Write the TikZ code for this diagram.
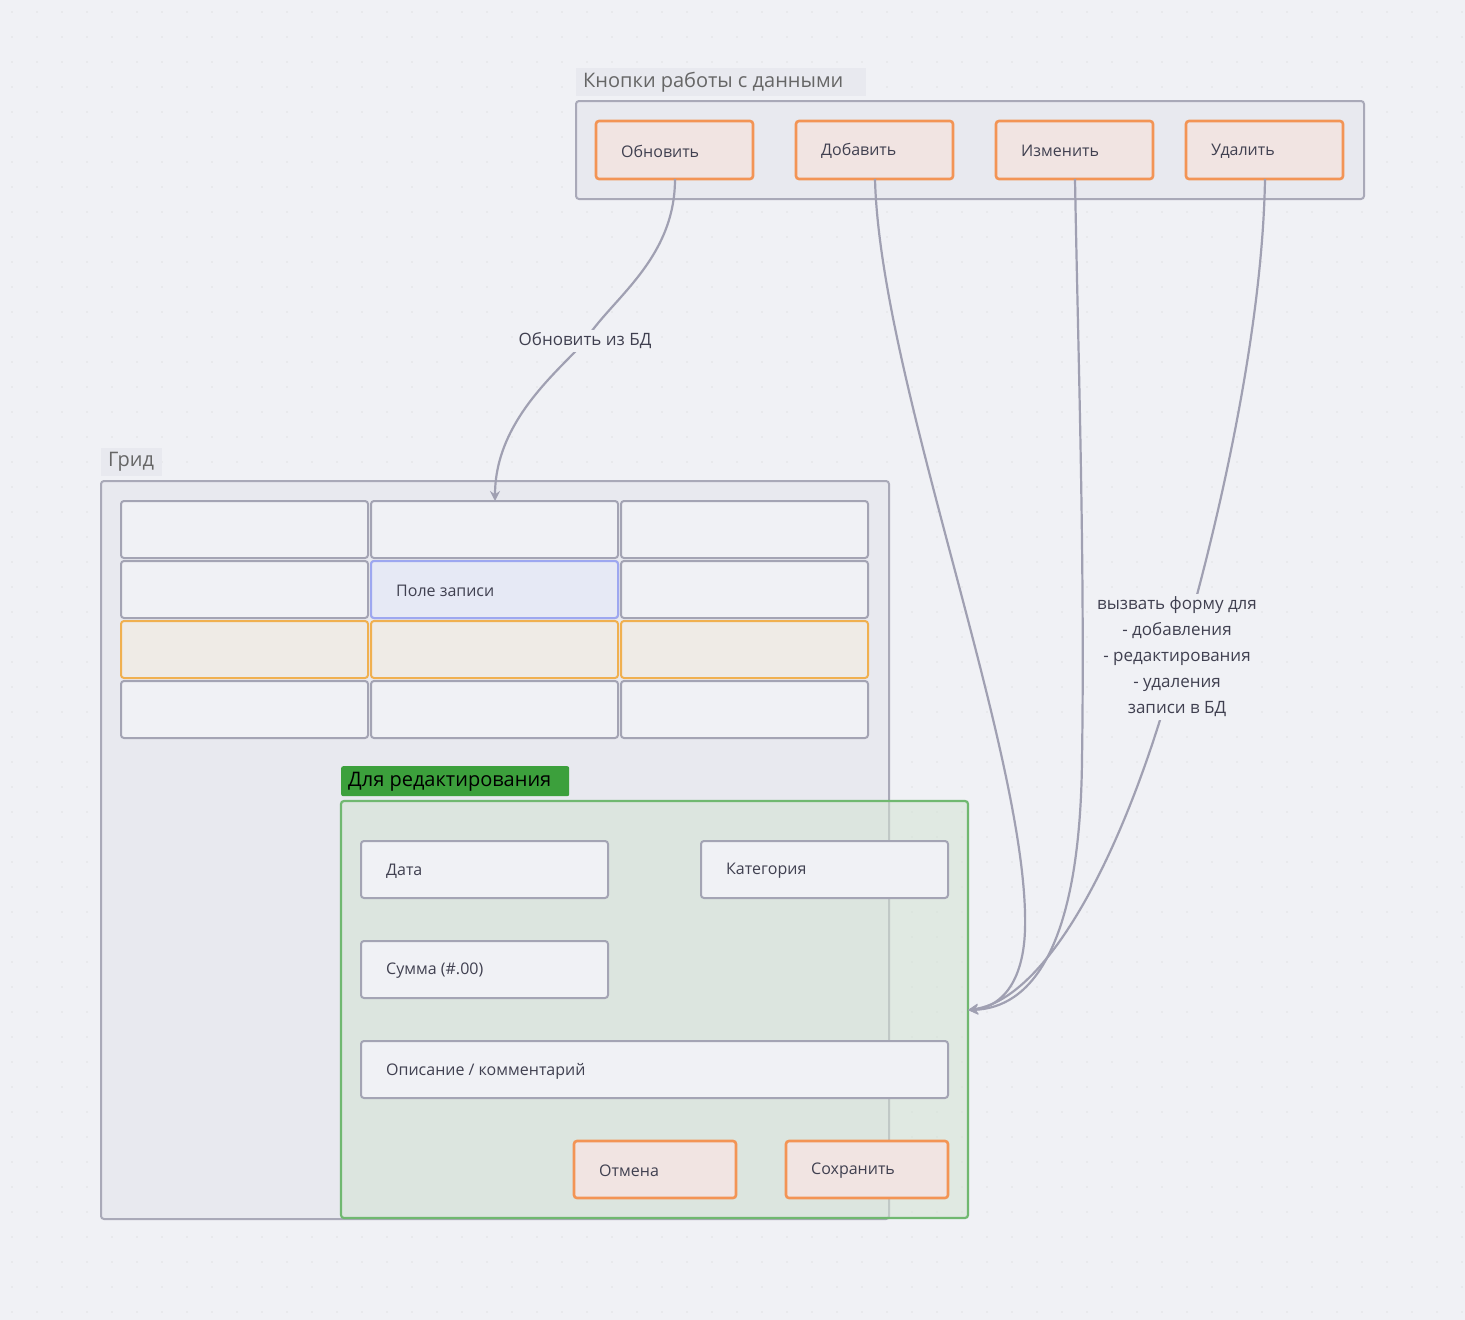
\documentclass[tikz,border=0pt]{standalone}
\usepackage{fontspec}
\setmainfont{Open Sans}
\usetikzlibrary{arrows.meta}
\definecolor{bg}{HTML}{F0F1F5}
\definecolor{grpfill}{HTML}{E8E9EF}
\definecolor{grpline}{HTML}{A9A9B8}
\definecolor{btnfill}{HTML}{F1E4E2}
\definecolor{btnline}{HTML}{F39455}
\definecolor{cellline}{HTML}{A4A4B4}
\definecolor{rowfill}{HTML}{EFEBE6}
\definecolor{rowline}{HTML}{F0B050}
\definecolor{selfill}{HTML}{E6E9F5}
\definecolor{selline}{HTML}{9DA7F0}
\definecolor{greenlab}{HTML}{3CA03C}
\definecolor{greenline}{HTML}{70B870}
\definecolor{greenfill}{HTML}{D3E3D3}
\definecolor{edge}{HTML}{A0A0B2}
\definecolor{txt}{HTML}{404050}
\tikzset{
 box/.style={draw=cellline,line width=2pt,fill=bg,rounded corners=3pt},
 btn/.style={draw=btnline,line width=2.6pt,fill=btnfill,rounded corners=3pt},
 lbl/.style={anchor=west,text=txt,font=\fontsize{16}{18}\selectfont,inner sep=0pt},
 glbl/.style={anchor=west,inner sep=0pt,font=\fontsize{20}{22}\selectfont},
 conn/.style={draw=edge,line width=2.2pt,-{Stealth[length=10pt,width=10pt]}},
 elab/.style={fill=bg,text=txt,font=\fontsize{17}{26}\selectfont,align=center,inner sep=3pt}
}
\begin{document}
\begin{tikzpicture}[x=1pt,y=-1pt]
\fill[bg] (0,0) rectangle (1465,1320);
\useasboundingbox (0,0) rectangle (1465,1320);
\foreach \i in {0,...,58}{\foreach \j in {0,...,52}{\fill[black!18] (\i*25+12,\j*25+12) circle (0.6pt);}}
% top group
\node[fill=grpfill,anchor=north west,minimum width=290pt,minimum height=28pt,inner sep=0pt] (tl) at (576,68) {};
\node[glbl,text=black!60] at (583,82) {Кнопки работы с данными};
\draw[grpline,line width=2pt,fill=grpfill,rounded corners=3pt] (576,101) rectangle (1364,199);
\foreach \n/\x/\t in {b1/596/Обновить,b2/796/Добавить,b3/996/Изменить,b4/1186/Удалить}{
 \draw[btn] (\x,121) rectangle (\x+157,179);
 \node[lbl] at (\x+25,151) {\t};
 \coordinate (\n) at (\x+79,179);
}
% grid group
\node[fill=grpfill,anchor=north west,minimum width=61pt,minimum height=28pt,inner sep=0pt] at (101,448) {};
\node[glbl,text=black!60] at (108,462) {Грид};
\draw[grpline,line width=2pt,fill=grpfill,rounded corners=3pt] (101,481) rectangle (889,1219);
\foreach \x in {121,371,621}{
 \foreach \y in {501,561,681}{\draw[box] (\x,\y) rectangle (\x+247,\y+57);}
 \draw[box,draw=rowline,fill=rowfill] (\x,621) rectangle (\x+247,678);
}
\draw[box,draw=selline,fill=selfill] (371,561) rectangle (618,618);
\node[lbl] at (396,591) {Поле записи};
\coordinate (cell) at (495,501);
% edit group
\node[fill=greenlab,anchor=north west,minimum width=228pt,minimum height=30pt,inner sep=0pt,rounded corners=2pt] at (341,766) {};
\node[glbl,text=black] at (348,782) {Для редактирования};
\draw[greenline,line width=2.2pt,fill=greenfill,fill opacity=0.55,rounded corners=3pt] (341,801) rectangle (968,1218);
\coordinate (form) at (968,1010);
\draw[box] (361,841) rectangle (608,898); \node[lbl] at (386,871) {Дата};
\draw[box] (701,841) rectangle (948,898); \node[lbl] at (726,871) {Категория};
\draw[box] (361,941) rectangle (608,998); \node[lbl] at (386,971) {Сумма (\#.00)};
\draw[box] (361,1041) rectangle (948,1098); \node[lbl] at (386,1071) {Описание / комментарий};
\draw[btn] (574,1141) rectangle (736,1198); \node[lbl] at (599,1171) {Отмена};
\draw[btn] (786,1141) rectangle (948,1198); \node[lbl] at (811,1171) {Сохранить};
% edges
\draw[conn] (b1) .. controls (675,260) and (610,300) .. (585,341) .. controls (560,370) and (495,420) .. (cell);
\node[elab] at (585,341) {Обновить из БД};
\draw[conn] (b2) .. controls (880,380) and (1030,760) .. (1025,930) .. controls (1023,990) and (995,1008) .. (form);
\draw[conn] (b3) .. controls (1078,350) and (1085,560) .. (1082,760) .. controls (1080,950) and (1030,1008) .. (form);
\draw[conn] (b4) .. controls (1262,360) and (1200,600) .. (1160,720) .. controls (1110,880) and (1040,1000) .. (form);
\node[elab] at (1177,657) {вызвать форму для\\- добавления\\- редактирования\\- удаления\\записи в БД};
\end{tikzpicture}
\end{document}
